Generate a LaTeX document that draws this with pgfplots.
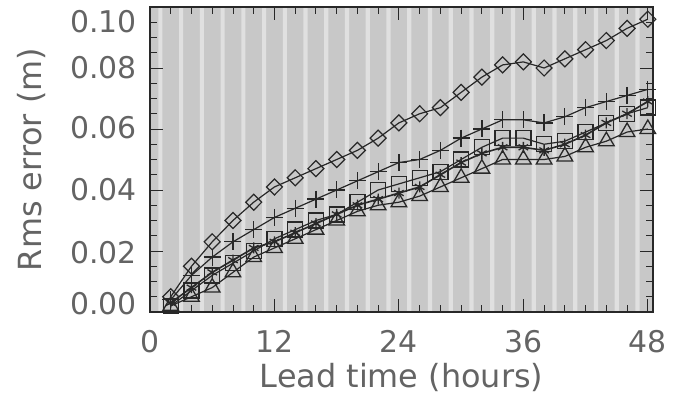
\documentclass[border=0pt]{standalone}
\usepackage{pgfplots}
\usepackage{pgfplotstable}
\pgfplotsset{compat=1.18}
\usepackage{fontspec}
\setmainfont{DejaVu Sans}
\definecolor{bgc}{RGB}{200,200,200}
\definecolor{stripe}{RGB}{224,224,224}
\definecolor{txt}{RGB}{100,100,100}
\definecolor{ln}{RGB}{40,40,40}

\pgfplotstableread{
x  dia   pls   ast   sq    tri
2  0.005 0.004 0.003 0.002 0.002
4  0.015 0.012 0.008 0.007 0.005
6  0.023 0.018 0.013 0.012 0.008
8  0.030 0.023 0.017 0.016 0.013
10 0.036 0.027 0.021 0.020 0.018
12 0.041 0.031 0.023 0.024 0.021
14 0.044 0.034 0.026 0.027 0.024
16 0.047 0.037 0.029 0.030 0.027
18 0.050 0.040 0.032 0.032 0.030
20 0.053 0.043 0.035 0.036 0.033
22 0.057 0.046 0.037 0.040 0.035
24 0.062 0.049 0.039 0.042 0.036
26 0.065 0.050 0.041 0.044 0.038
28 0.067 0.053 0.045 0.046 0.041
30 0.072 0.057 0.049 0.050 0.044
32 0.077 0.060 0.052 0.054 0.047
34 0.081 0.063 0.054 0.057 0.050
36 0.082 0.063 0.054 0.057 0.050
38 0.080 0.062 0.053 0.055 0.050
40 0.083 0.064 0.055 0.056 0.051
42 0.086 0.067 0.058 0.059 0.054
44 0.089 0.069 0.062 0.062 0.056
46 0.093 0.071 0.065 0.065 0.059
48 0.096 0.073 0.069 0.067 0.060
}\datatab

\begin{document}
\begin{tikzpicture}
\useasboundingbox (0,0) rectangle (673bp,398bp);
\begin{axis}[
  at={(150bp,86bp)}, anchor=south west,
  scale only axis, width=503bp, height=305bp,
  xmin=0, xmax=48.5, ymin=0, ymax=0.1,
  xtick={0,12,24,36,48}, minor x tick num=5,
  ytick={0,0.02,0.04,0.06,0.08,0.1}, minor y tick num=3,
  yticklabels={
    {\smash{\raisebox{-2bp}{0.00}}},
    {\smash{\raisebox{-13bp}{0.02}}},
    {\smash{\raisebox{-11bp}{0.04}}},
    {\smash{\raisebox{-10bp}{0.06}}},
    {\smash{\raisebox{-11bp}{0.08}}},
    {\smash{\raisebox{-26bp}{0.10}}}},
  tick align=inside,
  major tick length=13bp, minor tick length=7bp,
  axis line style={ln, line width=1.2bp},
  every tick/.style={ln, line width=0.9bp},
  axis background/.style={fill=bgc},
  axis on top,
  tick label style={font=\fontsize{30}{30}\selectfont, text=txt, inner sep=0pt},
  xticklabel style={anchor=north, yshift=-18bp},
  yticklabel style={anchor=east, xshift=-13bp},
  /pgf/number format/assume math mode=true,
  xlabel={Lead time (hours)},
  ylabel={Rms error (m)},
  label style={font=\fontsize{32}{32}\selectfont, text=txt, inner sep=0pt},
  xlabel style={at={(axis description cs:0.5,-0.167)}, anchor=north},
  ylabel style={at={(axis description cs:-0.2346,0.5)}, anchor=center},
  every axis plot/.append style={ln, line width=1.2bp, mark options={solid, line width=1.3bp}},
]
\addplot[ybar, bar width=0.4, fill=stripe, draw=none, line width=0pt, forget plot]
  coordinates {(1,0.1)(3,0.1)(5,0.1)(7,0.1)(9,0.1)(11,0.1)(13,0.1)(15,0.1)(17,0.1)(19,0.1)(21,0.1)(23,0.1)(25,0.1)(27,0.1)(29,0.1)(31,0.1)(33,0.1)(35,0.1)(37,0.1)(39,0.1)(41,0.1)(43,0.1)(45,0.1)(47,0.1)};
\addplot[mark=diamond, mark size=8bp, mark options={xscale=1.33}] table[x=x, y=dia] {\datatab};
\addplot[mark=+, mark size=8.5bp] table[x=x, y=pls] {\datatab};
\addplot[mark=square, mark size=7.5bp] table[x=x, y=sq] {\datatab};
\addplot[mark=triangle, mark size=9bp] table[x=x, y=tri] {\datatab};
\addplot[mark=asterisk, mark size=5.5bp, line width=1.6bp] table[x=x, y=ast] {\datatab};
\end{axis}
\end{tikzpicture}
\end{document}
